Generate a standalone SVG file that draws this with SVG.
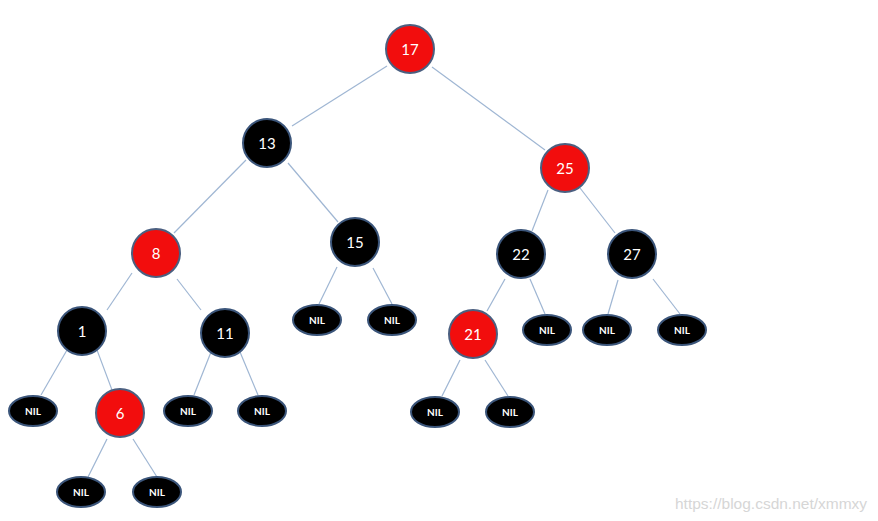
<svg xmlns="http://www.w3.org/2000/svg" width="878" height="521" viewBox="0 0 878 521">
<style>
.e{stroke:#9fb6d3;stroke-width:1.2;fill:none}
.b{fill:#000;stroke:#3b557a;stroke-width:2}
.r{fill:#f20d0d;stroke:#4b5f80;stroke-width:2}
.t{font-family:Lato,"Open Sans",sans-serif;font-size:15px;fill:#fff;text-anchor:middle;dominant-baseline:central}
.n{font-family:Lato,"Open Sans",sans-serif;font-size:10px;font-weight:bold;fill:#fff;text-anchor:middle;dominant-baseline:central}
.w{font-family:"Liberation Sans",Arial,sans-serif;font-size:15.5px;fill:#d6d6d6}
</style>
<rect width="878" height="521" fill="#fff"/>
<g id="connectors">
<line class="e" x1="387" y1="66" x2="292" y2="126"/>
<line class="e" x1="432" y1="67" x2="545" y2="150"/>
<line class="e" x1="246" y1="160" x2="174" y2="233"/>
<line class="e" x1="288" y1="163" x2="338" y2="222"/>
<line class="e" x1="548" y1="190" x2="532" y2="231"/>
<line class="e" x1="580" y1="188" x2="615" y2="233"/>
<line class="e" x1="132" y1="273" x2="107" y2="310"/>
<line class="e" x1="177" y1="279" x2="201" y2="310"/>
<line class="e" x1="337" y1="267" x2="319" y2="304"/>
<line class="e" x1="373" y1="268" x2="392" y2="304"/>
<line class="e" x1="505" y1="279" x2="487" y2="311"/>
<line class="e" x1="530" y1="279" x2="545" y2="314"/>
<line class="e" x1="618" y1="280" x2="608" y2="314"/>
<line class="e" x1="653" y1="279" x2="680" y2="314"/>
<line class="e" x1="67" y1="350" x2="41" y2="395"/>
<line class="e" x1="97" y1="350" x2="112" y2="390"/>
<line class="e" x1="211" y1="352" x2="194" y2="395"/>
<line class="e" x1="240" y1="352" x2="258" y2="395"/>
<line class="e" x1="460" y1="360" x2="442" y2="396"/>
<line class="e" x1="485" y1="360" x2="508" y2="396"/>
<line class="e" x1="107" y1="439" x2="88" y2="477"/>
<line class="e" x1="133" y1="439" x2="157" y2="477"/>
</g>
<g id="n17"><circle class="r" cx="410" cy="49" r="24"/><text class="t" x="410" y="49">17</text></g>
<g id="n13"><circle class="b" cx="267" cy="143" r="24"/><text class="t" x="267" y="143">13</text></g>
<g id="n25"><circle class="r" cx="565" cy="168" r="24"/><text class="t" x="565" y="168">25</text></g>
<g id="n8"><circle class="r" cx="156" cy="253" r="24"/><text class="t" x="156" y="253">8</text></g>
<g id="n15"><circle class="b" cx="355" cy="242" r="24"/><text class="t" x="355" y="242">15</text></g>
<g id="n22"><circle class="b" cx="521" cy="254" r="24"/><text class="t" x="521" y="254">22</text></g>
<g id="n27"><circle class="b" cx="632" cy="254" r="24"/><text class="t" x="632" y="254">27</text></g>
<g id="n1"><circle class="b" cx="82" cy="331" r="24"/><text class="t" x="82" y="331">1</text></g>
<g id="n11"><circle class="b" cx="225" cy="333" r="24"/><text class="t" x="225" y="333">11</text></g>
<g id="n21"><circle class="r" cx="473" cy="334" r="24"/><text class="t" x="473" y="334">21</text></g>
<g id="n6"><circle class="r" cx="120" cy="413" r="24"/><text class="t" x="120" y="413">6</text></g>
<g id="nil15a"><ellipse class="b" cx="317" cy="320" rx="24" ry="15"/><text class="n" x="317" y="320">NIL</text></g>
<g id="nil15b"><ellipse class="b" cx="392" cy="320" rx="24" ry="15"/><text class="n" x="392" y="320">NIL</text></g>
<g id="nil22"><ellipse class="b" cx="547" cy="330" rx="24" ry="15"/><text class="n" x="547" y="330">NIL</text></g>
<g id="nil27a"><ellipse class="b" cx="607" cy="330" rx="24" ry="15"/><text class="n" x="607" y="330">NIL</text></g>
<g id="nil27b"><ellipse class="b" cx="682" cy="330" rx="24" ry="15"/><text class="n" x="682" y="330">NIL</text></g>
<g id="nil1"><ellipse class="b" cx="33" cy="411" rx="24" ry="15"/><text class="n" x="33" y="411">NIL</text></g>
<g id="nil11a"><ellipse class="b" cx="188" cy="411" rx="24" ry="15"/><text class="n" x="188" y="411">NIL</text></g>
<g id="nil11b"><ellipse class="b" cx="262" cy="411" rx="24" ry="15"/><text class="n" x="262" y="411">NIL</text></g>
<g id="nil21a"><ellipse class="b" cx="435" cy="412" rx="24" ry="15"/><text class="n" x="435" y="412">NIL</text></g>
<g id="nil21b"><ellipse class="b" cx="510" cy="412" rx="24" ry="15"/><text class="n" x="510" y="412">NIL</text></g>
<g id="nil6a"><ellipse class="b" cx="81" cy="492" rx="24" ry="15"/><text class="n" x="81" y="492">NIL</text></g>
<g id="nil6b"><ellipse class="b" cx="157" cy="492" rx="24" ry="15"/><text class="n" x="157" y="492">NIL</text></g>
<text class="w" x="675" y="509">https://blog.csdn.net/xmmxy</text>
</svg>
